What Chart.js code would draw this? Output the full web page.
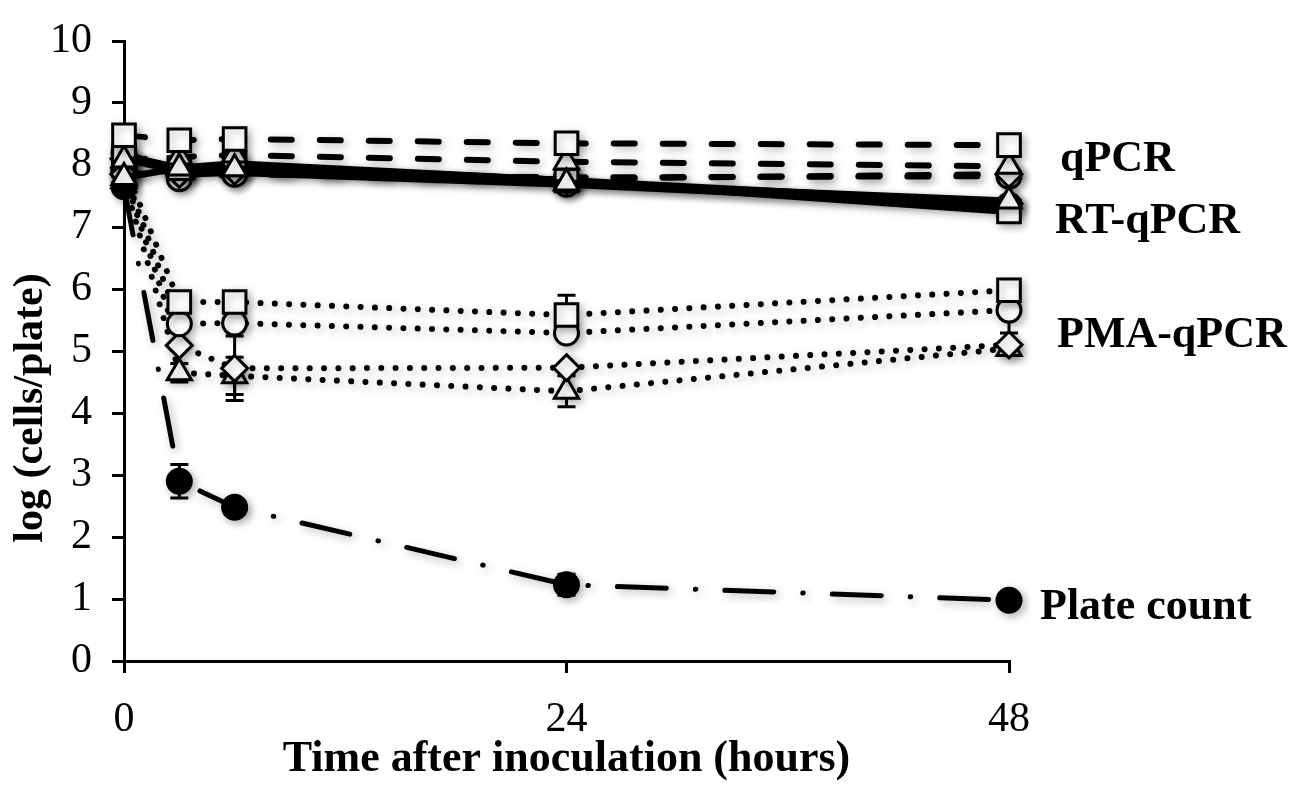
<!DOCTYPE html>
<html>
<head>
<meta charset="utf-8">
<script src="https://cdn.jsdelivr.net/npm/chart.js@4"></script>
<style>
  html, body { margin: 0; padding: 0; background: #fff; }
  #wrap { width: 1293px; height: 789px; }
</style>
</head>
<body>
<div id="wrap"><canvas id="graphique-survie"></canvas></div>
<script>
// sampling times (hours)
const hours = [0, 3, 6, 24, 48];
const xTicks = [0, 24, 48];

// qPCR (dashed)
const qpcrSquare   = [8.48, 8.40, 8.42, 8.35, 8.32];
const qpcrTriangle = [8.08, 8.13, 8.16, 8.05, 7.98];
const qpcrCircle   = [7.90, 7.78, 7.85, 7.80, 7.82];
const qpcrDiamond  = [7.85, 7.85, 7.90, 7.78, 7.85];

// RT-qPCR (solid)
const rtSquare   = [8.15, 7.95, 8.02, 7.75, 7.25];
const rtTriangle = [7.80, 7.95, 7.94, 7.71, 7.42];
const rtCircle   = [8.20, 7.85, 7.88, 7.69, 7.35];
const rtDiamond  = [8.10, 7.90, 8.00, 7.75, 7.38];

// PMA-qPCR (dotted)
const pmaSquare   = [8.00, 5.79, 5.79, 5.58, 5.98];
const pmaCircle   = [7.90, 5.44, 5.45, 5.29, 5.66];
const pmaDiamond  = [7.85, 5.09, 4.72, 4.73, 5.10];
const pmaTriangle = [7.75, 4.65, 4.60, 4.35, 5.04];
const pmaSquareErr   = [0, 0, 0, 0.32, 0];
const pmaCircleErr   = [0, 0, 0, 0, 0.37];
const pmaDiamondErr  = [0, 0, 0.52, 0, 0];
const pmaTriangleErr = [0, 0.15, 0.30, 0.25, 0];

// plate count (dash-dot)
const plateCount    = [7.65, 2.90, 2.48, 1.23, 0.98];
const plateCountErr = [0, 0.27, 0, 0.17, 0];

// group labels on the right
const groupLabels = ["qPCR", "RT-qPCR", "PMA-qPCR", "Plate count"];
const groupLabelY = [8.08, 7.08, 5.24, 0.86];
const yTitle = "log (cells/plate)";

const styles = {
    dashed: { width: 6, dash: [21, 28] },
    solid:  { width: 7, dash: [] },
    dotted: { width: 6, dash: [0.01, 14.3] },
    dashdot: { width: 5, dash: [49, 29, 0.5, 29] }
};

const markerSize = { rect: 16, circle: 12, triangle: 14, rectRot: 13 };

function makeSeries(label, values, errs, style, marker, filled) {
    const s = styles[style];
    return {
        label: label,
        data: hours.map((h, i) => ({ x: h, y: values[i] })),
        errors: errs,
        clip: false,
        borderColor: '#000',
        borderWidth: s.width,
        borderDash: s.dash,
        borderCapStyle: 'round',
        borderJoinStyle: 'round',
        tension: 0,
        pointStyle: marker,
        pointRadius: markerSize[marker],
        pointHoverRadius: markerSize[marker],
        pointBorderWidth: 3,
        pointBorderColor: '#000',
        pointBackgroundColor: filled ? '#000' : '#fff',
        fill: false
    };
}

// first dataset is drawn on top
const datasets = [
    makeSeries("qPCR carré", qpcrSquare, null, 'dashed', 'rect'),
    makeSeries("RT-qPCR triangle", rtTriangle, null, 'solid', 'triangle'),
    makeSeries("qPCR triangle", qpcrTriangle, null, 'dashed', 'triangle'),
    makeSeries("RT-qPCR carré", rtSquare, null, 'solid', 'rect'),
    makeSeries("qPCR losange", qpcrDiamond, null, 'dashed', 'rectRot'),
    makeSeries("qPCR cercle", qpcrCircle, null, 'dashed', 'circle'),
    makeSeries("RT-qPCR losange", rtDiamond, null, 'solid', 'rectRot'),
    makeSeries("RT-qPCR cercle", rtCircle, null, 'solid', 'circle'),
    makeSeries("PMA carré", pmaSquare, pmaSquareErr, 'dotted', 'rect'),
    makeSeries("PMA cercle", pmaCircle, pmaCircleErr, 'dotted', 'circle'),
    makeSeries("PMA losange", pmaDiamond, pmaDiamondErr, 'dotted', 'rectRot'),
    makeSeries("PMA triangle", pmaTriangle, pmaTriangleErr, 'dotted', 'triangle'),
    makeSeries("Plate count", plateCount, plateCountErr, 'dashdot', 'circle', true)
];

const serif = '"Liberation Serif", "Times New Roman", serif';

const errorBars = {
    id: 'errorBars',
    beforeDatasetsDraw(chart) {
        const ctx = chart.ctx;
        const xs = chart.scales.x, ys = chart.scales.y;
        ctx.save();
        ctx.strokeStyle = '#000';
        ctx.lineWidth = 3;
        chart.data.datasets.forEach(ds => {
            if (!ds.errors) return;
            ds.data.forEach((p, i) => {
                const e = ds.errors[i];
                if (!e) return;
                const px = xs.getPixelForValue(p.x);
                const top = ys.getPixelForValue(p.y + e);
                const bot = ys.getPixelForValue(p.y - e);
                ctx.beginPath();
                ctx.moveTo(px, top); ctx.lineTo(px, bot);
                ctx.moveTo(px - 9, top); ctx.lineTo(px + 9, top);
                ctx.moveTo(px - 9, bot); ctx.lineTo(px + 9, bot);
                ctx.stroke();
            });
        });
        ctx.restore();
        // soft shadow under the marks, as in the original figure
        ctx.save();
        ctx.shadowColor = 'rgba(0, 0, 0, 0.28)';
        ctx.shadowBlur = 8;
        ctx.shadowOffsetX = 3;
        ctx.shadowOffsetY = 3;
    },
    afterDatasetsDraw(chart) {
        chart.ctx.restore();
    }
};

const sideLabels = {
    id: 'sideLabels',
    afterDraw(chart) {
        const ctx = chart.ctx;
        const area = chart.chartArea;
        const ys = chart.scales.y;
        const offsets = [51, 46, 48, 31];
        ctx.save();
        ctx.fillStyle = '#000';
        ctx.font = 'bold 44px ' + serif;
        ctx.textAlign = 'left';
        ctx.textBaseline = 'middle';
        groupLabels.forEach((t, i) => {
            ctx.fillText(t, area.right + offsets[i], ys.getPixelForValue(groupLabelY[i]));
        });
        // y axis title, sits a bit below the middle of the axis
        ctx.translate(31, 408);
        ctx.rotate(-Math.PI / 2);
        ctx.textAlign = 'center';
        ctx.font = 'bold 42px ' + serif;
        ctx.fillText(yTitle, 0, 0);
        ctx.restore();
    }
};

new Chart(document.getElementById("graphique-survie"), {
    type: 'line',
    data: { datasets: datasets },
    plugins: [errorBars, sideLabels],
    options: {
        responsive: true,
        maintainAspectRatio: false,
        animation: false,
        layout: { padding: { left: 0, right: 284, top: 20, bottom: 0 } },
        plugins: {
            legend: { display: false },
            tooltip: { enabled: false }
        },
        scales: {
            x: {
                type: 'linear',
                min: 0,
                max: 48,
                afterFit: scale => { scale.height = 128; },
                afterBuildTicks: scale => { scale.ticks = xTicks.map(v => ({ value: v })); },
                grid: { drawOnChartArea: false, drawTicks: true, tickLength: 12, color: '#000', lineWidth: 3 },
                border: { color: '#000', width: 3 },
                ticks: { color: '#000', padding: 26, font: { family: serif, size: 42, lineHeight: 1 } },
                title: {
                    display: true,
                    text: 'Time after inoculation (hours)',
                    color: '#000',
                    padding: { top: 0, bottom: 7 },
                    font: { family: serif, size: 44, weight: 'bold', lineHeight: 1 }
                }
            },
            y: {
                min: 0,
                max: 10,
                afterFit: scale => { scale.width = 124; },
                grid: { drawOnChartArea: false, drawTicks: true, tickLength: 12, color: '#000', lineWidth: 3 },
                border: { color: '#000', width: 3 },
                ticks: { stepSize: 1, color: '#000', padding: 20, font: { family: serif, size: 42, lineHeight: 1 } },
                title: { display: false }
            }
        }
    }
});
</script>
</body>
</html>
